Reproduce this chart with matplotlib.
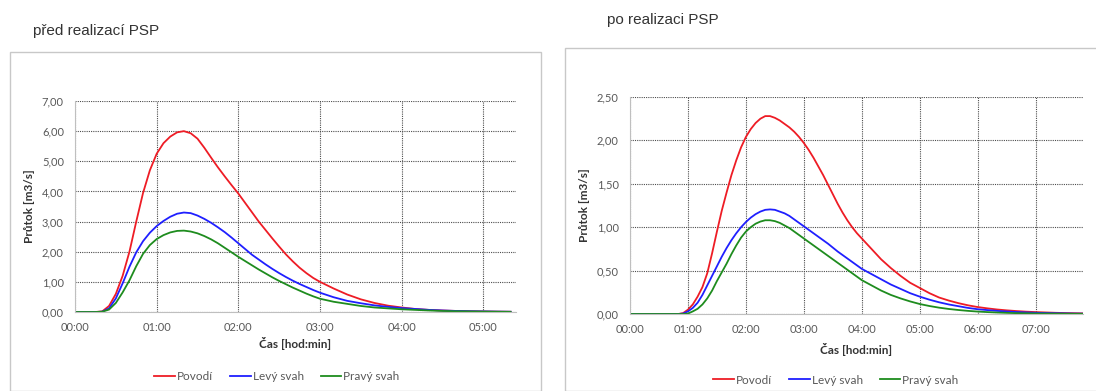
import matplotlib.pyplot as plt
from matplotlib.patches import Rectangle
from matplotlib.ticker import FuncFormatter, MultipleLocator

plt.rcParams['font.family'] = ['Lato', 'DejaVu Sans']

# ------ před realizací PSP (čas v minutách, průtok m3/s) ------
t_pred = [0, 10, 15, 20, 25, 30, 35, 40, 45, 50, 55, 60, 65, 70, 75, 80, 85, 90, 95, 100,
          105, 110, 115, 120, 125, 130, 135, 140, 145, 150, 155, 160, 165, 170, 175, 180,
          190, 200, 210, 220, 230, 240, 250, 260, 270, 280, 290, 300, 310, 320]
povodi_pred = [0, 0, 0, 0.02, 0.2, 0.6, 1.2, 2.0, 3.0, 3.95, 4.7, 5.25, 5.6, 5.82, 5.96,
               6.0, 5.93, 5.75, 5.45, 5.12, 4.8, 4.5, 4.21, 3.93, 3.62, 3.31, 3.0, 2.72,
               2.44, 2.17, 1.91, 1.68, 1.47, 1.29, 1.13, 1.0, 0.78, 0.58, 0.42, 0.3, 0.21,
               0.15, 0.1, 0.07, 0.05, 0.035, 0.025, 0.018, 0.012, 0.008]
levy_pred = [0, 0, 0, 0.01, 0.12, 0.45, 0.95, 1.5, 1.98, 2.35, 2.63, 2.85, 3.02, 3.16, 3.26,
             3.3, 3.28, 3.2, 3.09, 2.96, 2.81, 2.65, 2.47, 2.28, 2.09, 1.9, 1.74, 1.58,
             1.43, 1.29, 1.16, 1.04, 0.93, 0.83, 0.73, 0.64, 0.49, 0.37, 0.29, 0.22, 0.17,
             0.13, 0.1, 0.07, 0.05, 0.035, 0.025, 0.018, 0.012, 0.008]
pravy_pred = [0, 0, 0, 0.01, 0.08, 0.3, 0.65, 1.05, 1.52, 1.93, 2.22, 2.42, 2.55, 2.64, 2.69,
              2.7, 2.67, 2.61, 2.52, 2.41, 2.28, 2.13, 1.98, 1.83, 1.69, 1.55, 1.41, 1.28,
              1.15, 1.03, 0.92, 0.81, 0.71, 0.61, 0.52, 0.44, 0.34, 0.27, 0.2, 0.15, 0.12,
              0.09, 0.07, 0.05, 0.035, 0.025, 0.018, 0.012, 0.008, 0.005]

# ------ po realizaci PSP ------
t_po = [0, 10, 20, 30, 40, 50, 55, 60, 65, 70, 75, 80, 85, 90, 95, 100, 105, 110, 115, 120,
        125, 130, 135, 140, 145, 150, 155, 160, 165, 170, 175, 180, 185, 190, 195, 200,
        205, 210, 215, 220, 225, 230, 235, 240, 250, 260, 270, 280, 290, 300, 310, 320,
        330, 340, 350, 360, 370, 380, 390, 400, 410, 420, 430, 440, 450, 460, 470]
povodi_po = [0, 0, 0, 0, 0, 0, 0.01, 0.05, 0.11, 0.2, 0.31, 0.47, 0.7, 0.95, 1.19, 1.4, 1.6,
             1.77, 1.92, 2.04, 2.13, 2.2, 2.25, 2.28, 2.28, 2.26, 2.23, 2.19, 2.15, 2.1,
             2.04, 1.97, 1.89, 1.8, 1.7, 1.6, 1.49, 1.38, 1.27, 1.17, 1.08, 1.0, 0.93,
             0.87, 0.75, 0.63, 0.53, 0.44, 0.36, 0.3, 0.24, 0.19, 0.155, 0.125, 0.1, 0.08,
             0.065, 0.052, 0.042, 0.034, 0.027, 0.022, 0.018, 0.014, 0.011, 0.009, 0.007]
levy_po = [0, 0, 0, 0, 0, 0, 0.005, 0.03, 0.07, 0.13, 0.22, 0.33, 0.44, 0.55, 0.66, 0.76,
           0.85, 0.93, 1.0, 1.06, 1.11, 1.15, 1.18, 1.2, 1.205, 1.2, 1.18, 1.16, 1.13, 1.09,
           1.05, 1.01, 0.97, 0.93, 0.89, 0.85, 0.81, 0.765, 0.72, 0.68, 0.64, 0.6, 0.56,
           0.52, 0.46, 0.4, 0.34, 0.29, 0.24, 0.2, 0.165, 0.135, 0.11, 0.09, 0.07, 0.055,
           0.045, 0.036, 0.029, 0.023, 0.018, 0.014, 0.011, 0.009, 0.007, 0.005, 0.004]
pravy_po = [0, 0, 0, 0, 0, 0, 0, 0.005, 0.03, 0.06, 0.11, 0.18, 0.27, 0.38, 0.48, 0.58,
            0.69, 0.79, 0.88, 0.95, 1.0, 1.04, 1.065, 1.08, 1.08, 1.07, 1.05, 1.02, 0.99,
            0.95, 0.91, 0.87, 0.83, 0.79, 0.75, 0.71, 0.67, 0.63, 0.59, 0.55, 0.51, 0.47,
            0.43, 0.39, 0.33, 0.27, 0.22, 0.18, 0.145, 0.115, 0.092, 0.073, 0.058, 0.046,
            0.036, 0.028, 0.022, 0.017, 0.013, 0.01, 0.008, 0.006, 0.005, 0.004, 0.003,
            0.002, 0.002]

names = ['Povodí', 'Levý svah', 'Pravý svah']
colors = ['#ee1c25', '#1f1fff', '#1e8c1e']

W, H = 1096, 391
fig = plt.figure(figsize=(W / 100, H / 100), dpi=100)

def px(x0, y0, x1, y1):
    # pixelove souradnice -> figure fraction
    return [x0 / W, 1 - y1 / H, (x1 - x0) / W, (y1 - y0) / H]

def hm(v, pos):
    return '%02d:%02d' % (int(v) // 60, int(v) % 60)

def cz(v, pos):
    return ('%.2f' % v).replace('.', ',')

def panel(rect, box, title, title_xy, t, series, ymax, ystep, xmax, xlab_y, leg_xy):
    fig.patches.append(Rectangle((box[0] / W, 0), (box[1] - box[0]) / W, 1 - box[2] / H,
                                 transform=fig.transFigure, fill=False,
                                 edgecolor='#c8c8c8', lw=1.0))
    fig.text(title_xy[0] / W, 1 - title_xy[1] / H, title, fontsize=11, color='#333333',
             family='Liberation Sans', va='center')
    ax = fig.add_axes(rect)
    for s, c, n in zip(series, colors, names):
        ax.plot(t, s, color=c, lw=1.3, label=n)
    ax.set_xlim(0, xmax)
    ax.set_ylim(0, ymax)
    ax.xaxis.set_major_locator(MultipleLocator(60))
    ax.yaxis.set_major_locator(MultipleLocator(ystep))
    ax.xaxis.set_major_formatter(FuncFormatter(hm))
    ax.yaxis.set_major_formatter(FuncFormatter(cz))
    ax.grid(True, color='#4d4d4d', ls=(0, (1, 1)), lw=0.8)
    ax.set_axisbelow(True)
    for k in ['top', 'right']:
        ax.spines[k].set_visible(False)
    for k in ['left', 'bottom']:
        ax.spines[k].set_color('#bfbfbf')
    ax.tick_params(axis='y', length=0, labelsize=8, labelcolor='#595959', pad=8)
    ax.tick_params(axis='x', length=0, labelsize=8, labelcolor='#595959', pad=7)
    ax.set_ylabel('Průtok [m3/s]', fontsize=8.5, fontweight='bold', color='#333333',
                  labelpad=5)
    fig.text((rect[0] + rect[2] / 2), 1 - xlab_y / H, 'Čas [hod:min]', fontsize=8.5,
             fontweight='bold', color='#333333', ha='center', va='center')
    ax.legend(loc='center', bbox_to_anchor=(leg_xy[0] / W, 1 - leg_xy[1] / H),
              bbox_transform=fig.transFigure, ncol=3, frameon=False, fontsize=8.5,
              handlelength=1.75, handletextpad=0.15, columnspacing=1.45,
              labelcolor='#595959')
    return ax

panel(px(75, 101, 516, 312), (10, 541, 52), 'před realizací PSP', (33, 31),
      t_pred, [povodi_pred, levy_pred, pravy_pred], 7, 1, 324, 343, (277, 377))
panel(px(630, 97, 1083, 314), (565, 1110, 48), 'po realizaci PSP', (607, 20),
      t_po, [povodi_po, levy_po, pravy_po], 2.5, 0.5, 469, 349, (836, 380))

fig.savefig('out.png', dpi=100)
